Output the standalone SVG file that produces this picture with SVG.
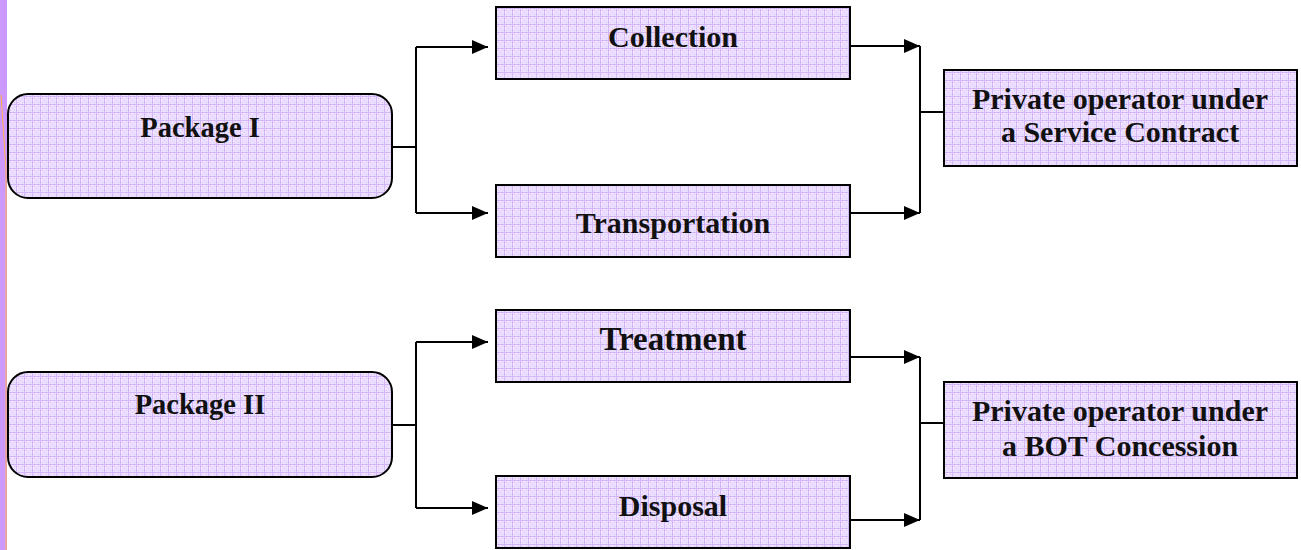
<svg xmlns="http://www.w3.org/2000/svg" width="1301" height="550" viewBox="0 0 1301 550">
  <defs>
    <!-- lavender woven fill used by every box -->
    <pattern id="weave" width="8" height="8" patternUnits="userSpaceOnUse">
      <rect width="8" height="8" fill="#ECDFFF"/>
      <rect x="0" y="0" width="8" height="1" fill="#D2B6F7"/>
      <rect x="0" y="0" width="1" height="8" fill="#D2B6F7"/>
      <rect x="2" y="2" width="1" height="1" fill="#DCC6FA"/>
      <rect x="4" y="4" width="1" height="1" fill="#DCC6FA"/>
      <rect x="6" y="2" width="1" height="1" fill="#DCC6FA"/>
      <rect x="2" y="6" width="1" height="1" fill="#DCC6FA"/>
      <rect x="6" y="6" width="1" height="1" fill="#DCC6FA"/>
      <rect x="4" y="1" width="1" height="1" fill="#F6F0FF"/>
      <rect x="1" y="4" width="1" height="1" fill="#F6F0FF"/>
    </pattern>
    <marker id="arrow" viewBox="0 0 16 14" refX="16" refY="7" markerWidth="16" markerHeight="14" markerUnits="userSpaceOnUse" orient="auto">
      <path d="M0,0 L16,7 L0,14 Z" fill="#000"/>
    </marker>
  </defs>
  <style>
    .box { fill: url(#weave); stroke: #000; stroke-width: 2; }
    .label { font-family: "Liberation Serif", "Times New Roman", serif; font-weight: bold; font-size: 30px; fill: #111; text-anchor: middle; }
    .pkg { font-size: 28.5px; }
    .wire { fill: none; stroke: #000; stroke-width: 2; }
  </style>

  <!-- slide edge accent -->
  <g id="edge">
    <rect x="0" y="0" width="7" height="550" fill="#CC99FF"/>
    <polyline points="1,95 6,170 6,550" fill="none" stroke="#FFB347" stroke-width="1"/>
  </g>

  <g id="package-1">
    <rect class="box" x="8" y="94" width="384" height="104" rx="20" ry="20"/>
    <text class="label pkg" x="200" y="137">Package I</text>
  </g>
  <g id="package-2">
    <rect class="box" x="8" y="372" width="384" height="105" rx="20" ry="20"/>
    <text class="label pkg" x="200" y="414">Package II</text>
  </g>

  <g id="collection">
    <rect class="box" x="496" y="7" width="354" height="72"/>
    <text class="label" x="673" y="47">Collection</text>
  </g>
  <g id="transportation">
    <rect class="box" x="496" y="185" width="354" height="72"/>
    <text class="label" x="673" y="233">Transportation</text>
  </g>
  <g id="treatment">
    <rect class="box" x="496" y="310" width="354" height="72"/>
    <text class="label" x="673" y="350" style="font-size:33px">Treatment</text>
  </g>
  <g id="disposal">
    <rect class="box" x="496" y="476" width="354" height="72"/>
    <text class="label" x="673" y="516">Disposal</text>
  </g>

  <g id="service-contract">
    <rect class="box" x="944" y="70" width="353" height="96"/>
    <text class="label" x="1120" y="109">Private operator under</text>
    <text class="label" x="1120" y="142">a Service Contract</text>
  </g>
  <g id="bot-concession">
    <rect class="box" x="944" y="382" width="353" height="96"/>
    <text class="label" x="1120" y="421">Private operator under</text>
    <text class="label" x="1120" y="456">a BOT Concession</text>
  </g>

  <g id="connectors">
    <!-- Package I fan-out -->
    <path class="wire" d="M392,147 H416"/>
    <path class="wire" d="M416,47 V213"/>
    <path class="wire" d="M416,47 H488" marker-end="url(#arrow)"/>
    <path class="wire" d="M416,213 H488" marker-end="url(#arrow)"/>
    <!-- Package II fan-out -->
    <path class="wire" d="M392,425 H416"/>
    <path class="wire" d="M416,342 V508"/>
    <path class="wire" d="M416,342 H488" marker-end="url(#arrow)"/>
    <path class="wire" d="M416,508 H488" marker-end="url(#arrow)"/>
    <!-- merge into service contract -->
    <path class="wire" d="M850,46 H920" marker-end="url(#arrow)"/>
    <path class="wire" d="M850,213 H920" marker-end="url(#arrow)"/>
    <path class="wire" d="M920,46 V213"/>
    <path class="wire" d="M920,112 H944"/>
    <!-- merge into BOT concession -->
    <path class="wire" d="M850,357 H920" marker-end="url(#arrow)"/>
    <path class="wire" d="M850,520 H920" marker-end="url(#arrow)"/>
    <path class="wire" d="M920,357 V520"/>
    <path class="wire" d="M920,423 H944"/>
  </g>
</svg>
